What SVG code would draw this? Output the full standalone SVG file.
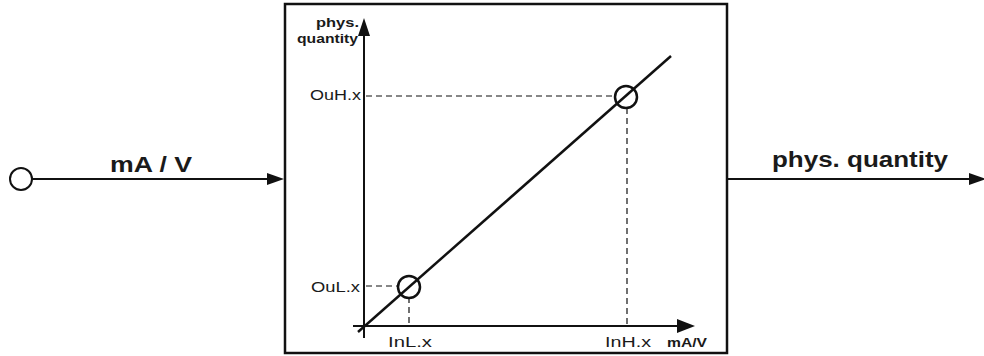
<svg xmlns="http://www.w3.org/2000/svg" width="984" height="356" viewBox="0 0 984 356">
<style>
.ln{stroke:#111;stroke-width:2;fill:none}
.th{stroke:#111;stroke-width:2.5;fill:none}
.ds{stroke:#111;stroke-width:1.2;fill:none;stroke-dasharray:6,4}
.ah{fill:#111}
.big{font-family:"Liberation Sans",Arial,sans-serif;font-weight:bold;font-size:22px;fill:#1a1a1a}
.sm{font-family:"Liberation Sans",Arial,sans-serif;font-weight:bold;font-size:12.5px;fill:#1a1a1a}
.seg{font-family:"Liberation Sans",Arial,sans-serif;font-size:14px;fill:#1a1a1a}
</style>
<rect width="984" height="356" fill="#ffffff"/>
<g id="input">
<circle cx="21" cy="179" r="11" class="ln" fill="#fff"/>
<text class="big" x="110" y="172" textLength="82" lengthAdjust="spacingAndGlyphs">mA / V</text>
</g>
<g id="converter">
<rect x="285" y="4" width="442" height="349" class="th" fill="#fff"/>
<text class="sm" x="316" y="27" textLength="43" lengthAdjust="spacingAndGlyphs">phys.</text>
<text class="sm" x="297" y="43" textLength="61" lengthAdjust="spacingAndGlyphs">quantity</text>
<line x1="364" y1="30" x2="364" y2="338" class="ln"/>
<polygon class="ah" points="364,18 358,36 370,36"/>
<line x1="353" y1="326" x2="682" y2="326" class="ln"/>
<polygon class="ah" points="695,326 677,319 677,333"/>
<text class="sm" x="667" y="347" textLength="40" lengthAdjust="spacingAndGlyphs">mA/V</text>
<line x1="366" y1="96" x2="616" y2="96" class="ds"/>
<line x1="627" y1="108" x2="627" y2="325" class="ds"/>
<line x1="366" y1="286" x2="398" y2="286" class="ds"/>
<line x1="409" y1="297" x2="409" y2="325" class="ds"/>
<line x1="358" y1="332" x2="671" y2="56" class="th"/>
<circle cx="409" cy="287" r="11" class="th"/>
<circle cx="626" cy="97" r="11" class="th"/>
<text class="seg" x="310" y="100" textLength="51" lengthAdjust="spacingAndGlyphs">OuH.x</text>
<text class="seg" x="311" y="292" textLength="49" lengthAdjust="spacingAndGlyphs">OuL.x</text>
<text class="seg" x="388" y="347" textLength="44" lengthAdjust="spacingAndGlyphs">InL.x</text>
<text class="seg" x="605" y="347" textLength="46" lengthAdjust="spacingAndGlyphs">InH.x</text>
</g>
<g id="output">
<text class="big" x="772" y="167" textLength="176" lengthAdjust="spacingAndGlyphs">phys. quantity</text>
</g>
<g id="connectors">
<line x1="32" y1="179" x2="270" y2="179" class="ln"/>
<polygon class="ah" points="284,179 267,173 267,185"/>
<line x1="728" y1="179" x2="972" y2="179" class="ln"/>
<polygon class="ah" points="986,179 969,173 969,185"/>
</g>
</svg>
